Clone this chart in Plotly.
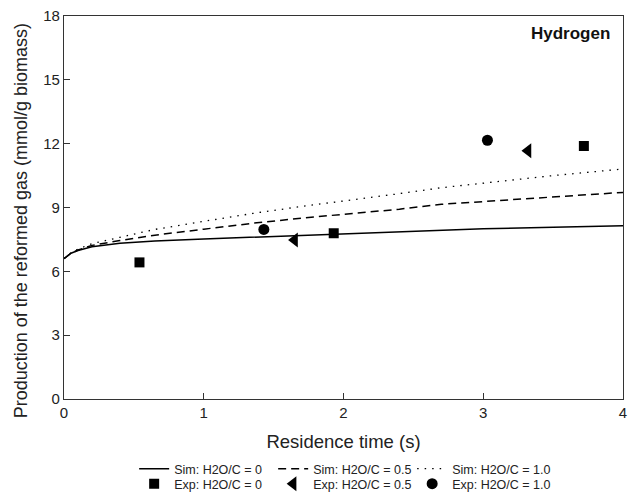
import plotly.graph_objects as go

# Simulation curves
t_sim = [0, 0.05, 0.1, 0.2, 0.4, 0.65, 1.0, 1.35, 1.7, 2.0, 2.4, 2.7, 3.0, 3.5, 4.0]
sim_0 = [6.6, 6.85, 6.98, 7.15, 7.32, 7.42, 7.52, 7.6, 7.7, 7.77, 7.85, 7.94, 8.0, 8.07, 8.14]
sim_05 = [6.6, 6.85, 7.0, 7.22, 7.45, 7.7, 7.98, 8.26, 8.5, 8.68, 8.92, 9.15, 9.28, 9.5, 9.71]
sim_10 = [6.6, 6.87, 7.05, 7.3, 7.6, 7.97, 8.35, 8.72, 9.05, 9.3, 9.65, 9.93, 10.15, 10.5, 10.81]

# Experimental points
exp0_t = [0.54, 1.93, 3.72]
exp0_y = [6.42, 7.79, 11.89]
exp05_t = [1.65, 3.32]
exp05_y = [7.47, 11.67]
exp10_t = [1.43, 3.03]
exp10_y = [7.97, 12.16]

x_ticks = [0, 1, 2, 3, 4]
y_ticks = [0, 3, 6, 9, 12, 15, 18]

FONT = "Liberation Sans, Arial, sans-serif"

fig = go.Figure()
fig.add_trace(go.Scatter(x=t_sim, y=sim_0, mode="lines", name="Sim: H2O/C = 0",
                         line=dict(color="black", width=1.5), legend="legend"))
fig.add_trace(go.Scatter(x=t_sim, y=sim_05, mode="lines", name="Sim: H2O/C = 0.5",
                         line=dict(color="black", width=1.5, dash="8px,5px"), legend="legend"))
fig.add_trace(go.Scatter(x=t_sim, y=sim_10, mode="lines", name="Sim: H2O/C = 1.0",
                         line=dict(color="black", width=1.3, dash="1.5px,6px"), legend="legend"))
fig.add_trace(go.Scatter(x=exp0_t, y=exp0_y, mode="markers", name="Exp: H2O/C = 0",
                         marker=dict(symbol="square", size=10, color="black"), legend="legend2"))
fig.add_trace(go.Scatter(x=exp05_t, y=exp05_y, mode="markers", name="Exp: H2O/C = 0.5",
                         marker=dict(symbol="triangle-left", size=13, color="black"), legend="legend2"))
fig.add_trace(go.Scatter(x=exp10_t, y=exp10_y, mode="markers", name="Exp: H2O/C = 1.0",
                         marker=dict(symbol="circle", size=11, color="black"), legend="legend2"))

legend_common = dict(orientation="h", xanchor="left", yanchor="middle",
                     font=dict(family=FONT, size=12.5, color="#222"),
                     bgcolor="rgba(0,0,0,0)", entrywidth=94, entrywidthmode="pixels",
                     itemwidth=30, tracegroupgap=0)

fig.update_layout(
    width=628, height=503,
    margin=dict(l=64, r=5, t=16, b=104, autoexpand=False),
    paper_bgcolor="white", plot_bgcolor="white",
    font=dict(family=FONT, color="#222"),
    xaxis=dict(range=[0, 4], tickvals=x_ticks, ticks="inside", ticklen=6, tickwidth=1,
               tickcolor="#333", showgrid=False, zeroline=False, showline=True,
               linecolor="#333", linewidth=1.2, mirror=True, ticklabeloverflow="allow",
               automargin=False,
               tickfont=dict(size=15, family=FONT, color="#222"),
               title=dict(text="Residence time (s)", font=dict(size=18.5, family=FONT, color="#222"),
                          standoff=14)),
    yaxis=dict(range=[0, 18], tickvals=y_ticks, ticks="inside", ticklen=6, tickwidth=1,
               tickcolor="#333", showgrid=False, zeroline=False, showline=True,
               linecolor="#333", linewidth=1.2, mirror=True, automargin=False,
               tickfont=dict(size=15, family=FONT, color="#222")),
    legend=dict(x=0.1255, y=-0.183, **legend_common),
    legend2=dict(x=0.1255, y=-0.222, **legend_common),
    annotations=[
        dict(text="<b>Hydrogen</b>", xref="paper", yref="paper", x=0.98, y=0.9556,
             xanchor="right", yanchor="middle", showarrow=False,
             font=dict(size=17, family=FONT, color="#111")),
        dict(text="Production of the reformed gas (mmol/g biomass)", xref="paper", yref="paper",
             x=-0.0765, y=0.4648, xanchor="center", yanchor="middle", textangle=-90,
             showarrow=False, font=dict(size=18, family=FONT, color="#222")),
    ],
)

fig.write_html("out.html")
